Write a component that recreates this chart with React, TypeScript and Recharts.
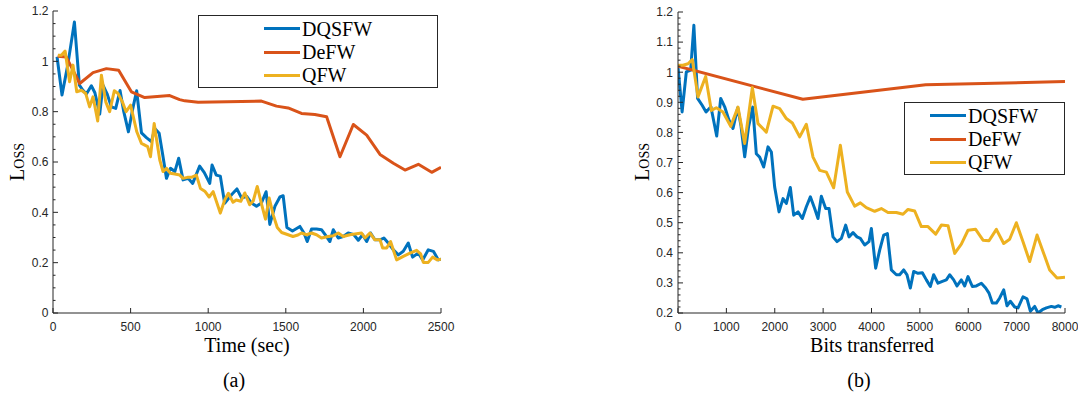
import { LineChart, Line, XAxis, YAxis } from 'recharts';

const BLUE = '#0072BD';
const ORANGE = '#D95319';
const YELLOW = '#EDB120';
const INK = '#262626';
const SERIF = '"Liberation Serif", "Times New Roman", serif';
const SANS = '"Liberation Sans", Arial, sans-serif';

const seriesNames = ['DQSFW', 'DeFW', 'QFW'];

// (a) loss against wall-clock time
const timeTicks = [0, 500, 1000, 1500, 2000, 2500];
const lossTicksA = [0, 0.2, 0.4, 0.6, 0.8, 1, 1.2];

const timeDQSFW: [number, number][] = [
  [26, 1.018], [58, 0.866], [95, 0.985], [138, 1.156], [170, 0.905], [193, 0.885], [215, 0.87], [247, 0.903],
  [270, 0.875], [301, 0.79], [322, 0.905], [348, 0.872], [376, 0.819], [404, 0.813], [432, 0.884], [456, 0.8],
  [486, 0.72], [512, 0.806], [539, 0.883], [570, 0.716], [602, 0.697], [634, 0.681], [656, 0.733], [684, 0.714],
  [709, 0.621], [731, 0.535], [757, 0.575], [785, 0.562], [810, 0.615], [838, 0.529], [871, 0.535], [900, 0.515],
  [945, 0.584], [975, 0.558], [1010, 0.515], [1025, 0.588], [1052, 0.548], [1078, 0.544], [1106, 0.436], [1150, 0.47],
  [1185, 0.493], [1215, 0.457], [1247, 0.464], [1279, 0.437], [1311, 0.424], [1343, 0.437], [1373, 0.482], [1397, 0.352],
  [1430, 0.424], [1462, 0.461], [1483, 0.466], [1507, 0.34], [1543, 0.326], [1591, 0.344], [1617, 0.318], [1638, 0.284],
  [1666, 0.334], [1698, 0.334], [1730, 0.331], [1758, 0.307], [1784, 0.284], [1806, 0.331], [1838, 0.298], [1870, 0.304],
  [1902, 0.318], [1939, 0.311], [1967, 0.289], [1995, 0.311], [2021, 0.284], [2046, 0.318], [2074, 0.291], [2107, 0.291],
  [2132, 0.298], [2160, 0.278], [2193, 0.251], [2225, 0.231], [2257, 0.245], [2289, 0.278], [2317, 0.222], [2354, 0.238],
  [2382, 0.211], [2418, 0.251], [2451, 0.245], [2483, 0.211], [2500, 0.214],
];

const timeDeFW: [number, number][] = [
  [30, 1.02], [86, 1.017], [172, 0.912], [258, 0.955], [344, 0.971], [423, 0.965], [505, 0.879], [591, 0.856],
  [752, 0.864], [816, 0.848], [849, 0.843], [935, 0.837], [1343, 0.842], [1440, 0.822], [1515, 0.815], [1601, 0.793],
  [1687, 0.789], [1763, 0.78], [1849, 0.621], [1935, 0.749], [2021, 0.707], [2107, 0.63], [2193, 0.595], [2268, 0.568],
  [2354, 0.591], [2440, 0.559], [2500, 0.579],
];

const timeQFW: [number, number][] = [
  [32, 1.024], [54, 1.024], [78, 1.041], [107, 0.919], [129, 0.985], [153, 0.879], [183, 0.885], [211, 0.872],
  [236, 0.819], [258, 0.859], [288, 0.763], [312, 0.945], [340, 0.839], [365, 0.8], [395, 0.883], [419, 0.872],
  [447, 0.839], [471, 0.8], [500, 0.826], [540, 0.72], [570, 0.674], [610, 0.661], [628, 0.621], [652, 0.753],
  [668, 0.687], [688, 0.608], [709, 0.562], [731, 0.575], [757, 0.555], [785, 0.552], [817, 0.548], [838, 0.535],
  [866, 0.539], [892, 0.539], [924, 0.548], [950, 0.495], [978, 0.484], [1006, 0.461], [1032, 0.482], [1078, 0.397],
  [1107, 0.45], [1130, 0.476], [1160, 0.44], [1181, 0.449], [1210, 0.444], [1236, 0.477], [1267, 0.43], [1290, 0.445],
  [1316, 0.503], [1345, 0.43], [1369, 0.373], [1393, 0.457], [1419, 0.39], [1445, 0.34], [1473, 0.32], [1515, 0.311],
  [1546, 0.304], [1578, 0.31], [1601, 0.318], [1634, 0.311], [1666, 0.318], [1698, 0.311], [1730, 0.298], [1773, 0.304],
  [1806, 0.307], [1838, 0.318], [1870, 0.304], [1913, 0.311], [1956, 0.315], [1988, 0.318], [2010, 0.298], [2042, 0.318],
  [2074, 0.291], [2107, 0.291], [2124, 0.258], [2150, 0.258], [2175, 0.284], [2214, 0.211], [2257, 0.225], [2300, 0.238],
  [2343, 0.249], [2369, 0.235], [2386, 0.201], [2418, 0.201], [2446, 0.222], [2476, 0.211], [2500, 0.214],
];

// (b) loss against bits transferred
const bitTicks = [0, 1000, 2000, 3000, 4000, 5000, 6000, 7000, 8000];
const lossTicksB = [0.2, 0.3, 0.4, 0.5, 0.6, 0.7, 0.8, 0.9, 1, 1.1, 1.2];

const bitsDQSFW: [number, number][] = [
  [0, 1.018], [85, 0.868], [172, 1.001], [262, 1.007], [328, 1.156], [405, 0.913], [496, 0.891], [580, 0.868],
  [680, 0.885], [800, 0.788], [883, 0.913], [965, 0.885], [1048, 0.843], [1137, 0.813], [1235, 0.882], [1300, 0.824],
  [1379, 0.719], [1460, 0.82], [1545, 0.884], [1619, 0.729], [1688, 0.718], [1771, 0.685], [1861, 0.752], [1930, 0.735],
  [1998, 0.619], [2088, 0.536], [2171, 0.58], [2240, 0.564], [2322, 0.617], [2391, 0.525], [2481, 0.536], [2570, 0.514],
  [2653, 0.553], [2736, 0.586], [2825, 0.547], [2894, 0.514], [2963, 0.588], [3053, 0.547], [3122, 0.547], [3204, 0.453],
  [3287, 0.437], [3377, 0.448], [3466, 0.492], [3535, 0.453], [3618, 0.467], [3700, 0.453], [3769, 0.448], [3859, 0.426],
  [3948, 0.437], [3997, 0.481], [4086, 0.349], [4169, 0.409], [4252, 0.459], [4328, 0.464], [4410, 0.343], [4514, 0.327],
  [4582, 0.327], [4665, 0.343], [4734, 0.327], [4803, 0.283], [4872, 0.338], [4961, 0.332], [5051, 0.334], [5134, 0.31],
  [5216, 0.288], [5285, 0.327], [5375, 0.299], [5465, 0.305], [5547, 0.31], [5616, 0.327], [5699, 0.31], [5768, 0.29],
  [5857, 0.31], [5926, 0.29], [5995, 0.321], [6085, 0.288], [6167, 0.29], [6271, 0.299], [6360, 0.283], [6429, 0.266],
  [6498, 0.233], [6581, 0.233], [6650, 0.25], [6733, 0.277], [6801, 0.224], [6870, 0.239], [6960, 0.22], [7029, 0.217],
  [7132, 0.254], [7215, 0.247], [7284, 0.206], [7373, 0.222], [7442, 0.2], [7532, 0.211], [7615, 0.217], [7718, 0.222],
  [7787, 0.219], [7856, 0.224], [7925, 0.22],
];

const bitsDeFW: [number, number][] = [
  [0, 1.02], [2580, 0.91], [5120, 0.958], [8000, 0.969],
];

const bitsQFW: [number, number][] = [
  [0, 1.023], [103, 1.023], [207, 1.028], [296, 1.042], [413, 0.918], [572, 0.986], [689, 0.873], [792, 0.882],
  [930, 0.868], [1089, 0.82], [1240, 0.884], [1378, 0.763], [1537, 0.949], [1654, 0.829], [1826, 0.801], [1964, 0.887],
  [2102, 0.879], [2240, 0.846], [2364, 0.831], [2515, 0.785], [2653, 0.827], [2791, 0.718], [2929, 0.674], [3067, 0.668],
  [3218, 0.616], [3356, 0.757], [3500, 0.602], [3652, 0.555], [3769, 0.566], [3893, 0.55], [4066, 0.538], [4203, 0.547],
  [4341, 0.534], [4514, 0.534], [4651, 0.528], [4755, 0.544], [4893, 0.539], [5030, 0.487], [5168, 0.487], [5327, 0.462],
  [5444, 0.492], [5582, 0.49], [5720, 0.398], [5857, 0.429], [5995, 0.475], [6153, 0.478], [6305, 0.442], [6429, 0.44],
  [6581, 0.478], [6733, 0.431], [6856, 0.445], [6994, 0.5], [7132, 0.437], [7270, 0.371], [7422, 0.459], [7560, 0.398],
  [7683, 0.343], [7835, 0.316], [8000, 0.319],
];

const rows = (pts: [number, number][]) => pts.map(([x, y]) => ({ x, y }));

// split the spaces between major ticks for the small inward ticks
function withMinor(majors: number[], parts: number) {
  const out: number[] = [];
  for (let i = 0; i < majors.length - 1; i++) {
    const step = (majors[i + 1] - majors[i]) / parts;
    for (let k = 0; k < parts; k++) out.push(+(majors[i] + k * step).toFixed(4));
  }
  out.push(majors[majors.length - 1]);
  return out;
}

type Side = 'bottom' | 'top' | 'left' | 'right';

// MATLAB-style ticks: pointing into the box, labels only on bottom/left
function makeTick(side: Side, majors: number[], gap = 4.5) {
  return (p: any) => {
    const { x, y, payload } = p;
    const v = payload.value as number;
    const major = majors.some((m) => Math.abs(m - v) < 1e-6);
    const len = major ? 5 : 2.5;
    let line;
    let label = null;
    if (side === 'bottom') {
      line = <line x1={x} y1={y} x2={x} y2={y - len} stroke={INK} />;
      if (major) label = <text x={x} y={y + 18.4} textAnchor="middle" fontSize={12} fontFamily={SANS} fill={INK}>{String(v)}</text>;
    } else if (side === 'top') {
      line = <line x1={x} y1={y} x2={x} y2={y + len} stroke={INK} />;
    } else if (side === 'left') {
      line = <line x1={x} y1={y} x2={x + len} y2={y} stroke={INK} />;
      if (major) label = <text x={x - gap} y={y + 4.3} textAnchor="end" fontSize={12} fontFamily={SANS} fill={INK}>{String(v)}</text>;
    } else {
      line = <line x1={x} y1={y} x2={x - len} y2={y} stroke={INK} />;
    }
    return (
      <g>
        {line}
        {label}
      </g>
    );
  };
}

interface PanelProps {
  left: number;
  width: number;
  margin: { top: number; right: number; bottom: number; left: number };
  xDomain: [number, number];
  yDomain: [number, number];
  xTicks: number[];
  yMajor: number[];
  yMinorParts: number;
  labelGap: number;
  dq: [number, number][];
  de: [number, number][];
  q: [number, number][];
}

function Panel(props: PanelProps) {
  const yTicks = withMinor(props.yMajor, props.yMinorParts);
  const axisLine = { stroke: INK, strokeWidth: 1 };
  return (
    <div style={{ position: 'absolute', left: props.left, top: 0 }}>
      <LineChart width={props.width} height={395} margin={props.margin}>
        <XAxis
          xAxisId={0} dataKey="x" type="number" domain={props.xDomain} ticks={props.xTicks} interval={0}
          allowDataOverflow height={30} tickSize={0} tickMargin={0} tickLine={false} axisLine={axisLine}
          tick={makeTick('bottom', props.xTicks)}
        />
        <XAxis
          xAxisId="top" orientation="top" type="number" domain={props.xDomain} ticks={props.xTicks} interval={0}
          allowDataOverflow height={0} tickSize={0} tickMargin={0} tickLine={false} axisLine={axisLine}
          tick={makeTick('top', props.xTicks)}
        />
        <YAxis
          yAxisId={0} type="number" domain={props.yDomain} ticks={yTicks} interval={0} allowDataOverflow
          width={45} tickSize={0} tickMargin={0} tickLine={false} axisLine={axisLine}
          tick={makeTick('left', props.yMajor, props.labelGap)}
        />
        <YAxis
          yAxisId="right" orientation="right" type="number" domain={props.yDomain} ticks={yTicks} interval={0}
          allowDataOverflow width={0} tickSize={0} tickMargin={0} tickLine={false} axisLine={axisLine}
          tick={makeTick('right', props.yMajor)}
        />
        <Line data={rows(props.dq)} dataKey="y" name={seriesNames[0]} stroke={BLUE} strokeWidth={3} dot={false} strokeLinejoin="round" isAnimationActive={false} />
        <Line data={rows(props.de)} dataKey="y" name={seriesNames[1]} stroke={ORANGE} strokeWidth={3} dot={false} strokeLinejoin="round" isAnimationActive={false} />
        <Line data={rows(props.q)} dataKey="y" name={seriesNames[2]} stroke={YELLOW} strokeWidth={3} dot={false} strokeLinejoin="round" isAnimationActive={false} />
      </LineChart>
    </div>
  );
}

function LegendBox({ left, top, width, lineX }: { left: number; top: number; width: number; lineX: number }) {
  const colors = [BLUE, ORANGE, YELLOW];
  const rowY = [12.5, 36, 59];
  return (
    <div style={{ position: 'absolute', left, top, width, height: 73, boxSizing: 'border-box', border: `1px solid ${INK}`, background: '#fff' }}>
      {seriesNames.map((name, i) => (
        <div key={name}>
          <div style={{ position: 'absolute', left: lineX, top: rowY[i] - 1.5, width: 36, height: 3, background: colors[i] }} />
          <div style={{ position: 'absolute', left: lineX + 38, top: rowY[i] - 10, lineHeight: '20px', fontSize: 20, fontFamily: SERIF, color: '#000', whiteSpace: 'nowrap' }}>
            {name}
          </div>
        </div>
      ))}
    </div>
  );
}

function Caption({ x, y, text, rotate = false }: { x: number; y: number; text: React.ReactNode; rotate?: boolean }) {
  return (
    <div
      style={{
        position: 'absolute', left: x, top: y, lineHeight: 1, fontSize: 20, fontFamily: SERIF, color: '#000',
        whiteSpace: 'nowrap', transform: `translate(-50%, -50%)${rotate ? ' rotate(-90deg)' : ''}`,
      }}
    >
      {text}
    </div>
  );
}

const lossText = (
  <span>
    L<span style={{ fontVariant: 'small-caps' }}>oss</span>
  </span>
);

export default function App() {
  return (
    <div style={{ position: 'absolute', left: 0, top: 0, width: 1078, height: 395, background: '#fff', overflow: 'hidden' }}>
      <Panel
        left={0} width={460} margin={{ top: 11, right: 19, bottom: 52, left: 8 }}
        xDomain={[0, 2500]} yDomain={[0, 1.2]} xTicks={timeTicks} yMajor={lossTicksA} yMinorParts={4} labelGap={4.5}
        dq={timeDQSFW} de={timeDeFW} q={timeQFW}
      />
      <Panel
        left={620} width={458} margin={{ top: 12, right: 13, bottom: 52, left: 13 }}
        xDomain={[0, 8000]} yDomain={[0.2, 1.2]} xTicks={bitTicks} yMajor={lossTicksB} yMinorParts={5} labelGap={5}
        dq={bitsDQSFW} de={bitsDeFW} q={bitsQFW}
      />
      <LegendBox left={198} top={15} width={240} lineX={65} />
      <LegendBox left={904} top={102} width={161} lineX={25} />
      <Caption x={17} y={162} text={lossText} rotate />
      <Caption x={642} y={162} text={lossText} rotate />
      <Caption x={247} y={345} text="Time (sec)" />
      <Caption x={872} y={345} text="Bits transferred" />
      <Caption x={234} y={380} text="(a)" />
      <Caption x={859} y={380} text="(b)" />
    </div>
  );
}
